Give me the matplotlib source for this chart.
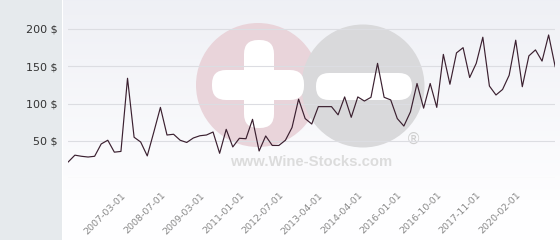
import numpy as np
import matplotlib
matplotlib.use("Agg")
import matplotlib.pyplot as plt
from matplotlib.patches import Circle, FancyBboxPatch, Rectangle

# ---- data ----
prices = [22, 31, 29.5, 28.5, 29.5, 46, 51, 35, 36, 134,
          55, 48.6, 30, 62, 95, 58, 59, 51, 48, 54,
          57, 58, 62, 33.5, 65.6, 42, 53.6, 53, 79, 36.6,
          56.7, 44, 44, 51, 68, 106, 80, 72.7, 96, 96,
          96, 85, 109, 81.7, 109, 103.5, 108.5, 154, 108.5, 105,
          80, 70, 89, 127, 94, 127, 95, 166, 126, 168,
          175, 135, 154, 189, 123.6, 111.6, 119, 138, 185, 122.7,
          164, 172, 157, 192, 149.5]
tick_index = [9, 15, 21, 27, 33, 39, 45, 51, 57, 63, 69]
tick_labels = ['2007-03-01', '2008-07-01', '2009-03-01', '2011-01-01',
               '2012-07-01', '2013-04-01', '2014-04-01', '2016-01-01',
               '2016-10-01', '2017-11-01', '2020-02-01']
y_ticks = [0, 50, 100, 150, 200]
y_tick_labels = ['', '50 $', '100 $', '150 $', '200 $']

W, H = 560, 240
fig = plt.figure(figsize=(W / 100, H / 100), dpi=100)

# ---- background / watermark layer in pixel coords ----
bg = fig.add_axes([0, 0, 1, 1], zorder=0)
bg.set_xlim(0, W)
bg.set_ylim(H, 0)
bg.axis('off')
grad = np.linspace(0, 1, 256).reshape(-1, 1)
top = np.array([0.937, 0.941, 0.961])
bot = np.array([0.995, 0.995, 1.0])
img = top[None, None, :] * (1 - grad[:, :, None]) + bot[None, None, :] * grad[:, :, None]
bg.imshow(img, extent=[63, W, 200, 0], aspect='auto', zorder=0)
bg.add_patch(Rectangle((63, 200), W - 63, 40, facecolor=bot, edgecolor='none', zorder=0.5))
bg.add_patch(Rectangle((0, 0), 62, H, facecolor='#e6eaed', edgecolor='none', zorder=1))
bg.add_patch(Rectangle((62, 0), 1, H, facecolor='#ffffff', edgecolor='none', zorder=1))

pink = '#e9d4da'
grey = '#d9d9db'
bg.add_patch(Circle((258, 85), 62, facecolor=pink, edgecolor='none', zorder=2))
bg.add_patch(Circle((363, 86), 61.5, facecolor=grey, edgecolor='none', zorder=2.1))
bg.add_patch(FancyBboxPatch((244 + 14, 40 + 14), 30 - 28, 88 - 28,
                            boxstyle='round,pad=14', facecolor='white', edgecolor='none', zorder=3))
bg.add_patch(FancyBboxPatch((212 + 14, 70 + 14), 92 - 28, 30 - 28,
                            boxstyle='round,pad=14', facecolor='white', edgecolor='none', zorder=3))
bg.add_patch(FancyBboxPatch((316 + 13, 73 + 13), 96 - 26, 27 - 26,
                            boxstyle='round,pad=13', facecolor='white', edgecolor='none', zorder=3))
bg.text(311, 162, 'www.Wine-Stocks.com', ha='center', va='center', fontsize=10.7,
        fontweight='bold', family='Liberation Sans', color='#dcdcdc', zorder=4)
bg.text(413, 139, '®', ha='center', va='center', fontsize=11,
        family='DejaVu Sans', color='#cfcfcf', zorder=4)

# ---- main chart ----
x0, x1 = 68.3, 555.2
ybot, ytop = 178.3, 0
ax = fig.add_axes([x0 / W, (H - ybot) / H, (x1 - x0) / W, (ybot - ytop) / H], zorder=1)
ax.patch.set_alpha(0)
x = np.arange(len(prices))
ax.plot(x, prices, color='#3b2030', lw=0.85, zorder=3)
ax.set_xlim(0, len(prices) - 1)
ax.set_ylim(0, 178.3 / 0.7465)
ax.set_yticks(y_ticks)
ax.set_yticklabels(y_tick_labels, fontsize=8, color='#333333')
ax.set_xticks(tick_index)
ax.set_xticklabels(tick_labels, rotation=45, ha='right', fontsize=6.8, color='#8a8a8a')
ax.tick_params(axis='y', length=0, pad=8)
ax.tick_params(axis='x', length=0, pad=9)
ax.grid(axis='y', color='#dcdde2', lw=0.8)
ax.grid(axis='x', visible=False)
for s in ax.spines.values():
    s.set_visible(False)

fig.savefig('out.png', dpi=100)
